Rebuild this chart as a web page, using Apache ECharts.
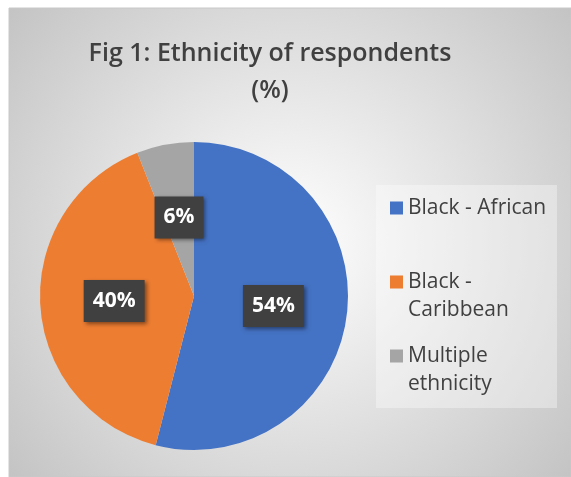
<!DOCTYPE html>
<html>
<head>
<meta charset="utf-8">
<script src="https://cdn.jsdelivr.net/npm/echarts@6/dist/echarts.min.js"></script>
<style>html,body{margin:0;padding:0;background:#fff}#c{width:571px;height:477px}</style>
</head>
<body>
<div id="c"></div>
<script>
const titleText = 'Fig 1: Ethnicity of respondents\n(%)';
const categories = ['Black - African', 'Black - Caribbean', 'Multiple ethnicity'];
const legendLabels = ['Black - African', 'Black -\nCaribbean', 'Multiple\nethnicity'];
const values = [54, 40, 6];
const colors = ['#4472C4', '#ED7D31', '#A5A5A5'];

const FONT = '"Open Sans", "Noto Sans", sans-serif';
const legendTops = [194, 240, 314];

const legends = categories.map((name, i) => {
  return {
    orient: 'vertical',
    left: 390,
    top: legendTops[i],
    padding: 0,
    icon: 'rect',
    itemWidth: 13,
    itemHeight: 13,
    selectedMode: false,
    data: [name],
    formatter: n => {
      const lbl = legendLabels[categories.indexOf(n)];
      // blank leading line keeps the first text line level with the marker
      return lbl.indexOf('\n') >= 0 ? '\n' + lbl : lbl;
    },
    textStyle: { fontFamily: FONT, fontSize: 21, lineHeight: 28, color: '#404040' }
  };
});

const chart = echarts.init(document.getElementById('c'), null, { renderer: 'canvas' });
chart.setOption({
  animation: false,
  color: colors,
  graphic: [
    {
      type: 'rect', z: -10, silent: true,
      shape: { x: 9, y: 8, width: 562, height: 469 },
      style: {
        fill: new echarts.graphic.RadialGradient(0.5, 0.5, 0.8, [
          { offset: 0, color: '#ffffff' },
          { offset: 1, color: '#c2c2c2' }
        ]),
        stroke: '#c8c8c8', lineWidth: 1
      }
    },
    {
      type: 'rect', z: -9, silent: true,
      shape: { x: 376, y: 185, width: 181, height: 223 },
      style: { fill: 'rgba(255,255,255,0.35)' }
    }
  ],
  title: {
    text: titleText,
    left: 265,
    top: 30,
    textAlign: 'center',
    textStyle: { fontFamily: FONT, fontSize: 25, fontWeight: 600, lineHeight: 37, color: '#404040' }
  },
  legend: legends,
  series: [{
    type: 'pie',
    center: [194, 296],
    radius: 154,
    startAngle: 90,
    clockwise: true,
    avoidLabelOverlap: false,
    emphasis: { disabled: true },
    labelLine: { show: false },
    label: {
      show: true,
      position: 'inside',
      formatter: '{c}%',
      fontFamily: FONT,
      fontSize: 21,
      fontWeight: 'bold',
      lineHeight: 26,
      color: '#ffffff',
      backgroundColor: '#404040',
      padding: [8, 9],
      shadowColor: 'rgba(0,0,0,0.45)',
      shadowBlur: 4,
      shadowOffsetX: 2,
      shadowOffsetY: 2
    },
    data: categories.map((n, i) => ({ name: n, value: values[i] }))
  }]
});
</script>
</body>
</html>
